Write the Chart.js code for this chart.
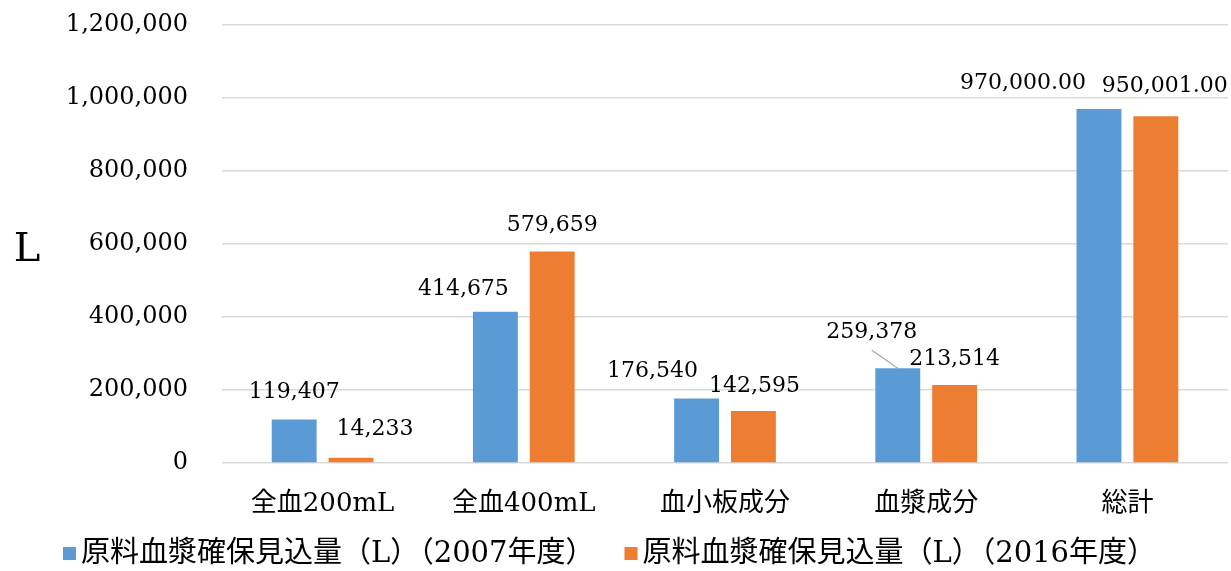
<!DOCTYPE html>
<html>
<head>
<meta charset="utf-8">
<script src="https://cdn.jsdelivr.net/npm/chart.js@4"></script>
<style>
  html, body { margin: 0; padding: 0; background: #fff; }
  #wrap { width: 1231px; height: 571px; }
</style>
</head>
<body>
<div id="wrap"><canvas id="bloodChart" width="1231" height="571"></canvas></div>
<script>
const categories = ['全血200mL', '全血400mL', '血小板成分', '血漿成分', '総計'];
const values2007 = [119407, 414675, 176540, 259378, 970000];
const values2016 = [14233, 579659, 142595, 213514, 950001];
const seriesNames = ['原料血漿確保見込量（L）（2007年度）', '原料血漿確保見込量（L）（2016年度）'];
const yTicks = [0, 200000, 400000, 600000, 800000, 1000000, 1200000];
const labelDecimals = [0, 0, 0, 0, 2];

// where each value label sits relative to the top of its bar
const labelShift = [
    [[0, -27], [-32, -22], [-44, -27], [-26, -36], [-76, -26]],
    [[24, -29], [0, -26], [1, -25], [0, -26], [9, -30]]
];
const leaderLines = [[3], []];

const serif = "'DejaVu Serif', 'Noto Sans CJK JP', serif";
const colors = ['#5B9BD5', '#ED7D31'];

const fmt = (v, d) => v.toLocaleString('en-US', {minimumFractionDigits: d, maximumFractionDigits: d});

const valueLabels = {
    id: 'valueLabels',
    afterDatasetsDraw(chart) {
        const ctx = chart.ctx;
        ctx.save();
        ctx.font = "22px " + serif;
        ctx.fillStyle = '#000';
        ctx.textAlign = 'center';
        ctx.textBaseline = 'middle';
        chart.data.datasets.forEach((ds, di) => {
            chart.getDatasetMeta(di).data.forEach((bar, i) => {
                const lx = bar.x + labelShift[di][i][0];
                const ly = bar.y + labelShift[di][i][1];
                if (leaderLines[di].includes(i)) {
                    ctx.strokeStyle = '#a6a6a6';
                    ctx.lineWidth = 1.2;
                    ctx.beginPath();
                    ctx.moveTo(lx, ly + 18);
                    ctx.lineTo(bar.x, bar.y);
                    ctx.stroke();
                }
                ctx.fillText(fmt(ds.data[i], labelDecimals[i]), lx, ly);
            });
        });
        ctx.restore();
    }
};

const sideTitle = {
    id: 'sideTitle',
    afterDraw(chart) {
        const ctx = chart.ctx;
        ctx.save();
        ctx.font = "40px " + serif;
        ctx.fillStyle = '#000';
        ctx.textAlign = 'center';
        ctx.textBaseline = 'middle';
        ctx.fillText('L', 27, 251);
        ctx.restore();
    }
};

const bottomLegend = {
    id: 'bottomLegend',
    afterDraw(chart) {
        const ctx = chart.ctx;
        ctx.save();
        ctx.font = "29px " + serif;
        ctx.textBaseline = 'middle';
        ctx.textAlign = 'left';
        const box = 13, gap = 5, spacing = 30;
        const widths = chart.data.datasets.map(ds => box + gap + ctx.measureText(ds.label).width);
        const total = widths.reduce((a, b) => a + b, 0) + spacing * (widths.length - 1);
        let x = (chart.width - total) / 2 - 6;
        const y = 554;
        chart.data.datasets.forEach((ds, i) => {
            ctx.fillStyle = ds.backgroundColor;
            ctx.fillRect(x, y - 7, box, box);
            ctx.fillStyle = '#000';
            ctx.fillText(ds.label, x + box + gap, y);
            x += widths[i] + spacing;
        });
        ctx.restore();
    }
};

new Chart(document.getElementById('bloodChart'), {
    type: 'bar',
    data: {
        labels: categories,
        datasets: [
            { label: seriesNames[0], data: values2007, backgroundColor: colors[0] },
            { label: seriesNames[1], data: values2016, backgroundColor: colors[1] }
        ]
    },
    options: {
        responsive: false,
        animation: false,
        events: [],
        categoryPercentage: 0.565,
        barPercentage: 0.79,
        layout: { padding: { top: 25, right: 3, left: 0, bottom: 50 } },
        plugins: {
            legend: { display: false },
            tooltip: { enabled: false }
        },
        scales: {
            x: {
                grid: { display: false },
                border: { display: false },
                ticks: {
                    color: '#000',
                    padding: 18,
                    font: { family: serif, size: 26 }
                },
                afterFit(scale) { scale.height = 58; }
            },
            y: {
                min: 0,
                max: yTicks[yTicks.length - 1],
                afterBuildTicks(scale) { scale.ticks = yTicks.map(v => ({ value: v })); },
                grid: { color: '#d9d9d9', lineWidth: 1.5, drawTicks: false },
                border: { display: false },
                ticks: {
                    color: '#000',
                    padding: 34,
                    font: { family: serif, size: 24 },
                    callback: v => v.toLocaleString('en-US')
                },
                afterFit(scale) {
                    scale.width = 222;
                    scale.paddingTop = 0;
                    scale.paddingBottom = 0;
                }
            }
        }
    },
    plugins: [valueLabels, sideTitle, bottomLegend]
});
</script>
</body>
</html>
